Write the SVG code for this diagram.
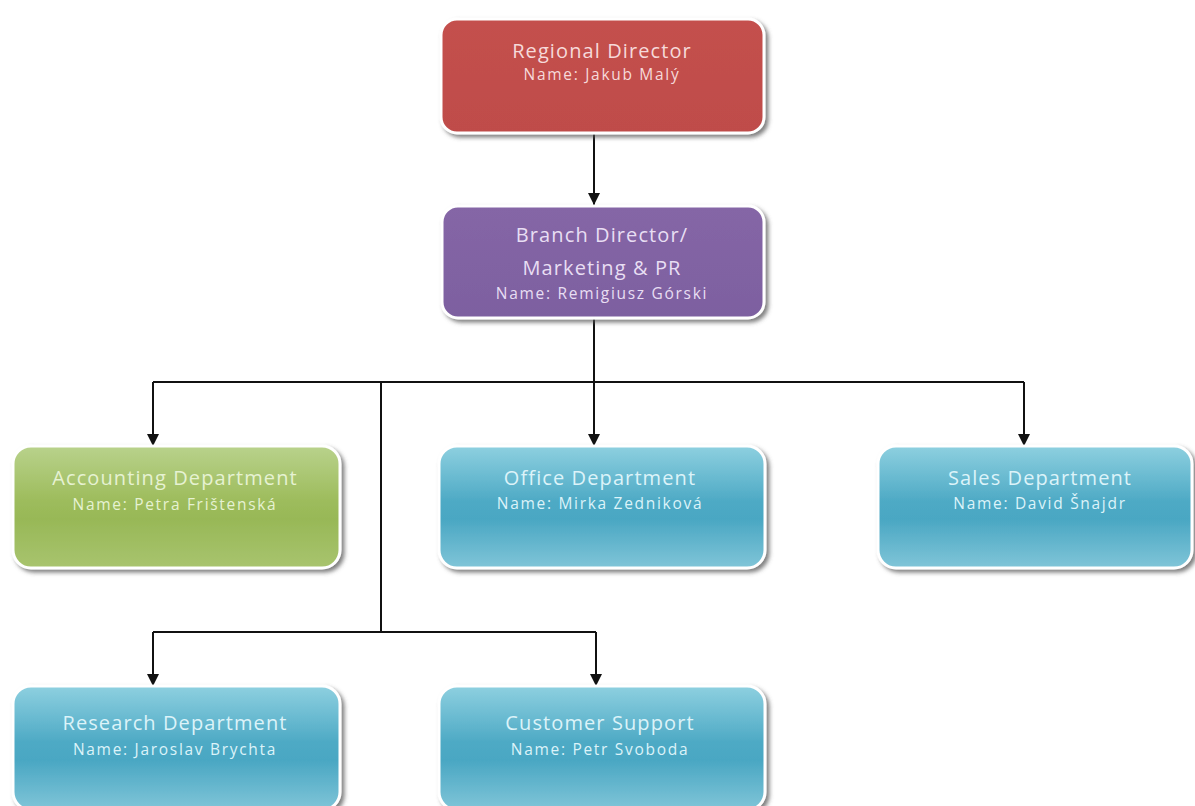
<svg xmlns="http://www.w3.org/2000/svg" width="1195" height="806" viewBox="0 0 1195 806">
<style>
.box{stroke:#ffffff;stroke-width:3;filter:url(#sh)}
.t{font-family:"Open Sans","DejaVu Sans",sans-serif;text-anchor:middle}
.h{font-size:20px;letter-spacing:1.1px}
.n{font-size:15.5px;letter-spacing:1.7px}
.red{fill:#f6dada}
.pur{fill:#e8def3}
.grn{fill:#e6f2d2}
.blu{fill:#dcf3f9}
.ln{fill:none;stroke:#111;stroke-width:2}
</style>
<defs>
<filter id="sh" x="-10%" y="-10%" width="125%" height="130%">
<feDropShadow dx="3" dy="3" stdDeviation="2" flood-color="#555" flood-opacity="0.75"/>
</filter>
<linearGradient id="gRed" x1="0" y1="0" x2="0" y2="1">
<stop offset="0" stop-color="#c4504d"/><stop offset="1" stop-color="#bf4c4a"/>
</linearGradient>
<linearGradient id="gPur" x1="0" y1="0" x2="0" y2="1">
<stop offset="0" stop-color="#8566a6"/><stop offset="1" stop-color="#7d60a0"/>
</linearGradient>
<linearGradient id="gGrn" x1="0" y1="0" x2="0" y2="1">
<stop offset="0" stop-color="#b9d28c"/><stop offset="0.45" stop-color="#9dbc5c"/><stop offset="0.6" stop-color="#98b857"/><stop offset="1" stop-color="#a8c46e"/>
</linearGradient>
<linearGradient id="gBlu" x1="0" y1="0" x2="0" y2="1">
<stop offset="0" stop-color="#8ed0e0"/><stop offset="0.45" stop-color="#4eaac5"/><stop offset="0.6" stop-color="#4aa7c3"/><stop offset="1" stop-color="#80c5d8"/>
</linearGradient>
<marker id="arr" viewBox="0 0 10 10" refX="10" refY="5" markerWidth="6.5" markerHeight="6" orient="auto" markerUnits="strokeWidth">
<path d="M0,0 L10,5 L0,10 Z" fill="#111"/>
</marker>
</defs>
<rect width="1195" height="806" fill="#ffffff"/>
<g id="connectors">
<path class="ln" d="M594,133 V205" marker-end="url(#arr)"/>
<path class="ln" d="M594,318 V446" marker-end="url(#arr)"/>
<path class="ln" d="M153,382 H1024"/>
<path class="ln" d="M153,382 V446" marker-end="url(#arr)"/>
<path class="ln" d="M1024,382 V446" marker-end="url(#arr)"/>
<path class="ln" d="M381,382 V632"/>
<path class="ln" d="M153,632 H596"/>
<path class="ln" d="M153,632 V686" marker-end="url(#arr)"/>
<path class="ln" d="M596,632 V686" marker-end="url(#arr)"/>
</g>
<g id="regional">
<rect class="box" x="441" y="19" width="323" height="114" rx="16" fill="url(#gRed)"/>
<text class="t h red" x="602" y="58">Regional Director</text>
<text class="t n red" x="602" y="80">Name: Jakub Malý</text>
</g>
<g id="branch">
<rect class="box" x="442" y="206" width="322" height="112" rx="16" fill="url(#gPur)"/>
<text class="t h pur" x="602" y="242">Branch Director/</text>
<text class="t h pur" x="602" y="275">Marketing &amp; PR</text>
<text class="t n pur" x="602" y="299">Name: Remigiusz Górski</text>
</g>
<g id="accounting">
<rect class="box" x="13" y="446" width="327" height="122" rx="18" fill="url(#gGrn)"/>
<text class="t h grn" x="175" y="485">Accounting Department</text>
<text class="t n grn" x="175" y="510">Name: Petra Frištenská</text>
</g>
<g id="office">
<rect class="box" x="439" y="446" width="326" height="122" rx="18" fill="url(#gBlu)"/>
<text class="t h blu" x="600" y="485">Office Department</text>
<text class="t n blu" x="600" y="509">Name: Mirka Zedniková</text>
</g>
<g id="sales">
<rect class="box" x="878" y="446" width="314" height="122" rx="18" fill="url(#gBlu)"/>
<text class="t h blu" x="1040" y="485">Sales Department</text>
<text class="t n blu" x="1040" y="509">Name: David Šnajdr</text>
</g>
<g id="research">
<rect class="box" x="13" y="686" width="327" height="124" rx="18" fill="url(#gBlu)"/>
<text class="t h blu" x="175" y="730">Research Department</text>
<text class="t n blu" x="175" y="755">Name: Jaroslav Brychta</text>
</g>
<g id="support">
<rect class="box" x="439" y="686" width="326" height="124" rx="18" fill="url(#gBlu)"/>
<text class="t h blu" x="600" y="730">Customer Support</text>
<text class="t n blu" x="600" y="755">Name: Petr Svoboda</text>
</g>
</svg>
